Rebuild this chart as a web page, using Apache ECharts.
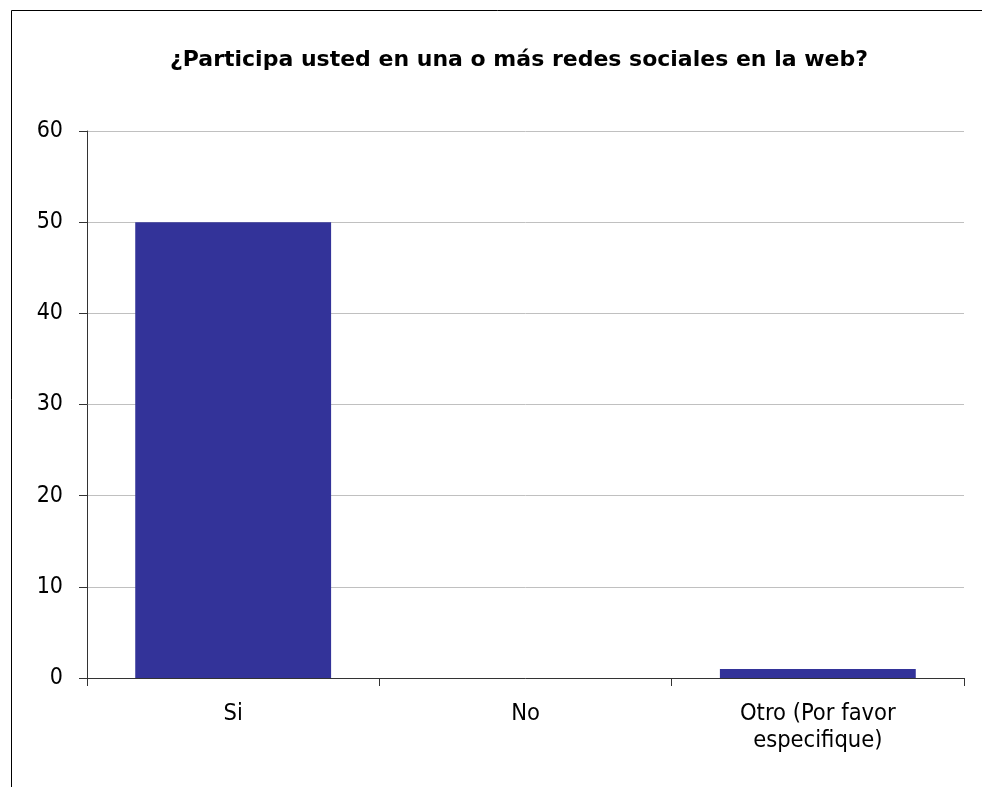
<!DOCTYPE html>
<html><head><meta charset="utf-8">
<script src="https://cdn.jsdelivr.net/npm/echarts@6/dist/echarts.min.js"></script>
<style>html,body{margin:0;padding:0;background:#fff}#c{width:982px;height:787px}</style>
</head><body><div id="c"></div>
<script>
const categories = ['Si', 'No', 'Otro (Por favor\nespecifique)'];
const values = [50, 0, 1];
const yTicks = [0, 10, 20, 30, 40, 50, 60];
const titleText = '¿Participa usted en una o más redes sociales en la web?';

const chart = echarts.init(document.getElementById('c'));
const font = '"DejaVu Sans Condensed", "DejaVu Sans", sans-serif';
chart.setOption({
  animation: false,
  backgroundColor: '#fff',
  title: {
    text: titleText, left: 514, top: 44, textAlign: 'center',
    textStyle: { fontFamily: '"DejaVu Sans", sans-serif', fontSize: 22, fontWeight: 'bold', color: '#000' }
  },
  graphic: [{
    type: 'rect', shape: { x: 11.5, y: 10.5, width: 1000, height: 1000 },
    style: { fill: 'none', stroke: '#000', lineWidth: 1 }, silent: true
  }],
  grid: { left: 87, right: 18, top: 131, bottom: 109, containLabel: false },
  xAxis: {
    type: 'category', data: categories,
    axisLine: { lineStyle: { color: '#333', width: 1 } },
    axisTick: { show: true, length: 8, lineStyle: { color: '#333' } },
    axisLabel: { fontFamily: font, fontSize: 23.5, color: '#000', margin: 22, lineHeight: 27 }
  },
  yAxis: {
    type: 'value', min: yTicks[0], max: yTicks[yTicks.length - 1], interval: 10,
    axisLine: { show: true, lineStyle: { color: '#333', width: 1 } },
    axisTick: { show: true, length: 8, lineStyle: { color: '#333' } },
    axisLabel: { fontFamily: font, fontSize: 23, color: '#000', margin: 24 },
    splitLine: { lineStyle: { color: '#c0c0c0', width: 1 } }
  },
  series: [{
    type: 'bar', data: values, barWidth: '67%',
    itemStyle: { color: '#333399' }
  }]
});
</script></body></html>
